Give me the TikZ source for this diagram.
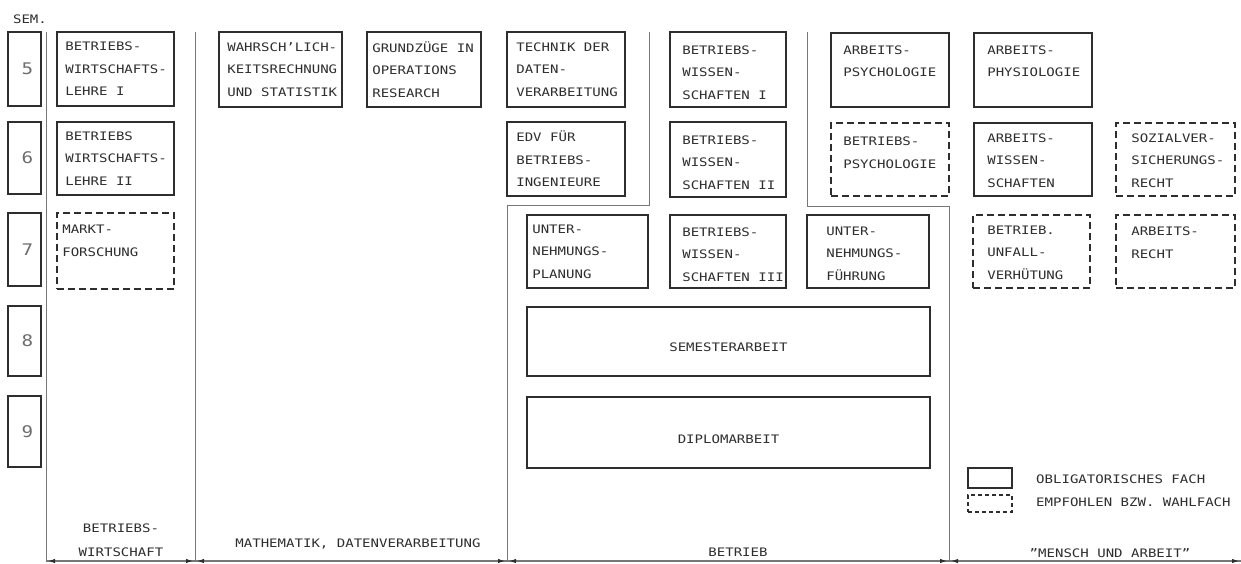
\documentclass[tikz,border=0pt]{standalone}
\usepackage{fontspec}
\newfontfamily\boxfont[FakeStretch=1.2]{DejaVu Sans Mono}
\usetikzlibrary{arrows.meta}
\definecolor{ink}{HTML}{2E2E2E}
\definecolor{sepc}{HTML}{777777}
\begin{document}
\begin{tikzpicture}[x=1pt,y=-1pt,
  fach/.style={draw=ink, line width=1.8pt, inner sep=0pt},
  wahl/.style={fach, dash pattern=on 7pt off 4pt},
  ftext/.style={font=\boxfont\fontsize{11.7}{22.5}\selectfont, text=ink, align=left, inner sep=0pt, anchor=west},
  ctext/.style={font=\boxfont\fontsize{11.7}{24}\selectfont, text=ink, align=center, inner sep=0pt},
  semb/.style={draw=ink, line width=1.6pt, minimum width=33pt, inner sep=0pt},
  semnum/.style={font=\boxfont\fontsize{16}{16}\selectfont, text=ink!70, inner sep=0pt},
  sepline/.style={draw=sepc, line width=1pt},
  dim/.style={draw=sepc, line width=1.2pt, {Latex[length=7pt,width=4.5pt,color=ink]}-{Latex[length=7pt,width=4.5pt,color=ink]}, shorten <=2pt, shorten >=2pt}
]
\useasboundingbox (0,0) rectangle (1241,563);

% separator lines
\coordinate (a0) at (46,32);   \coordinate (a1) at (46,561);
\coordinate (b0) at (195,32);  \coordinate (b1) at (195,561);
\coordinate (c0) at (649,32);  \coordinate (c1) at (649,205);
\coordinate (c2) at (507,205); \coordinate (c3) at (507,561);
\coordinate (d0) at (807,32);  \coordinate (d1) at (807,206);
\coordinate (d2) at (949,206); \coordinate (d3) at (949,561);
\coordinate (e1) at (1241,561);
\draw[sepline] (a0) -- (a1);
\draw[sepline] (b0) -- (b1);
\draw[sepline] (c0) -- (c1) -- (c2) -- (c3);
\draw[sepline] (d0) -- (d1) -- (d2) -- (d3);
\draw[sepline, line width=1.2pt] (a1) -- (e1);
\draw[dim] (a1) -- (b1);
\draw[dim] (b1) -- (c3);
\draw[dim] (c3) -- (d3);
\draw[dim] (d3) -- (e1);

% semester column
\node[ctext] (semlbl) at (30,19) {SEM.};
\node[semb, minimum height=74pt] (s5) at (24.5,69) {};
\node[semb, minimum height=72pt] (s6) at (24.5,158) {};
\node[semb, minimum height=73pt] (s7) at (24.5,249.5) {};
\node[semb, minimum height=70pt] (s8) at (24.5,341) {};
\node[semb, minimum height=71pt] (s9) at (24.5,431.5) {};
\node[semnum] (n5) at ([xshift=3pt]s5.center) {5};
\node[semnum] (n6) at ([xshift=3pt]s6.center) {6};
\node[semnum] (n7) at ([xshift=3pt]s7.center) {7};
\node[semnum] (n8) at ([xshift=3pt]s8.center) {8};
\node[semnum] (n9) at ([xshift=3pt]s9.center) {9};

% Betriebswirtschaft
\node[fach, minimum width=117pt, minimum height=74pt] (bwl1) at (115.5,69) {};
\node[ftext] (bwl1t) at ([xshift=9pt]bwl1.west) {BETRIEBS-\\WIRTSCHAFTS-\\LEHRE I};
\node[fach, minimum width=117pt, minimum height=73pt] (bwl2) at (115.5,158.5) {};
\node[ftext] (bwl2t) at ([xshift=9pt]bwl2.west) {BETRIEBS\\WIRTSCHAFTS-\\LEHRE II};
\node[wahl, minimum width=117pt, minimum height=76pt] (markt) at (115.5,251) {};
\node[ftext] (marktt) at ([xshift=6pt,yshift=10pt]markt.west) {MARKT-\\FORSCHUNG};

% Mathematik, Datenverarbeitung
\node[fach, minimum width=123pt, minimum height=75pt] (wahr) at (280.5,69.5) {};
\node[ftext] (wahrt) at ([xshift=9pt]wahr.west) {WAHRSCH’LICH-\\KEITSRECHNUNG\\UND STATISTIK};
\node[fach, minimum width=114pt, minimum height=75pt] (grund) at (424,69.5) {};
\node[ftext] (grundt) at ([xshift=6pt]grund.west) {GRUNDZÜGE IN\\OPERATIONS\\RESEARCH};
\node[fach, minimum width=118pt, minimum height=75pt] (tech) at (566,69.5) {};
\node[ftext] (techt) at ([xshift=10pt]tech.west) {TECHNIK DER\\DATEN-\\VERARBEITUNG};
\node[fach, minimum width=118pt, minimum height=74pt] (edv) at (566,159) {};
\node[ftext] (edvt) at ([xshift=10pt]edv.west) {EDV FÜR\\BETRIEBS-\\INGENIEURE};

% Betrieb
\node[fach, minimum width=116pt, minimum height=75pt] (bw1) at (728,69.5) {};
\node[ftext] (bw1t) at ([xshift=13pt,yshift=-3pt]bw1.west) {BETRIEBS-\\WISSEN-\\SCHAFTEN I};
\node[fach, minimum width=116pt, minimum height=75pt] (bw2) at (728,159.5) {};
\node[ftext] (bw2t) at ([xshift=13pt,yshift=-3pt]bw2.west) {BETRIEBS-\\WISSEN-\\SCHAFTEN II};
\node[fach, minimum width=121pt, minimum height=73pt] (plan) at (587.5,251.5) {};
\node[ftext] (plant) at ([xshift=6pt]plan.west) {UNTER-\\NEHMUNGS-\\PLANUNG};
\node[fach, minimum width=116pt, minimum height=73pt] (bw3) at (728,251.5) {};
\node[ftext] (bw3t) at ([xshift=13pt,yshift=-3pt]bw3.west) {BETRIEBS-\\WISSEN-\\SCHAFTEN III};
\node[fach, minimum width=122pt, minimum height=73pt] (fuehr) at (868,251.5) {};
\node[ftext] (fuehrt) at ([xshift=20pt,yshift=-2pt]fuehr.west) {UNTER-\\NEHMUNGS-\\FÜHRUNG};
\node[fach, minimum width=403pt, minimum height=69pt] (semarb) at (728.5,341.5) {};
\node[ctext] (semarbt) at ([yshift=-6pt]semarb.center) {SEMESTERARBEIT};
\node[fach, minimum width=403pt, minimum height=71pt] (dipl) at (728.5,432.5) {};
\node[ctext] (diplt) at ([yshift=-7pt]dipl.center) {DIPLOMARBEIT};

% Mensch und Arbeit
\node[fach, minimum width=118pt, minimum height=74pt] (apsy) at (890,70) {};
\node[ftext] (apsyt) at ([xshift=13pt,yshift=9pt]apsy.west) {ARBEITS-\\PSYCHOLOGIE};
\node[fach, minimum width=118pt, minimum height=74pt] (aphys) at (1033,70) {};
\node[ftext] (aphyst) at ([xshift=14pt,yshift=9pt]aphys.west) {ARBEITS-\\PHYSIOLOGIE};
\node[wahl, minimum width=118pt, minimum height=73pt] (bpsy) at (890,159.5) {};
\node[ftext] (bpsyt) at ([xshift=13pt,yshift=7pt]bpsy.west) {BETRIEBS-\\PSYCHOLOGIE};
\node[fach, minimum width=118pt, minimum height=73pt] (awiss) at (1033,159.5) {};
\node[ftext] (awisst) at ([xshift=14pt,yshift=-1pt]awiss.west) {ARBEITS-\\WISSEN-\\SCHAFTEN};
\node[wahl, minimum width=119pt, minimum height=73pt] (soz) at (1175.5,159.5) {};
\node[ftext] (sozt) at ([xshift=16pt,yshift=-1pt]soz.west) {SOZIALVER-\\SICHERUNGS-\\RECHT};
\node[wahl, minimum width=117pt, minimum height=73pt] (unf) at (1031.5,251.5) {};
\node[ftext] (unft) at ([xshift=15pt,yshift=-1pt]unf.west) {BETRIEB.\\UNFALL-\\VERHÜTUNG};
\node[wahl, minimum width=119pt, minimum height=73pt] (arecht) at (1175.5,251.5) {};
\node[ftext] (arechtt) at ([xshift=16pt,yshift=9pt]arecht.west) {ARBEITS-\\RECHT};

% legend
\node[draw=ink, line width=1.4pt, minimum width=44pt, minimum height=20pt, inner sep=0pt] (lgs) at (990,478) {};
\node[draw=ink, line width=1.4pt, dash pattern=on 4pt off 3pt, minimum width=44pt, minimum height=17pt, inner sep=0pt] (lgd) at (990,503.5) {};
\node[ftext] (lgst) at (1036,479) {OBLIGATORISCHES FACH};
\node[ftext] (lgdt) at (1036,502) {EMPFOHLEN BZW. WAHLFACH};

% section labels
\node[ctext] (lbw) at (121,540) {BETRIEBS-\\WIRTSCHAFT};
\node[ctext] (lmath) at (358,544) {MATHEMATIK, DATENVERARBEITUNG};
\node[ctext] (lbetr) at (738,552) {BETRIEB};
\node[ctext] (lmensch) at (1110,553) {”MENSCH UND ARBEIT”};
\end{tikzpicture}
\end{document}
